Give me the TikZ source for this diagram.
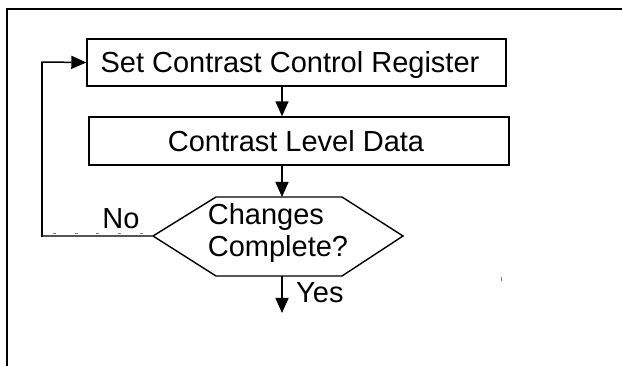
\documentclass[tikz,border=0pt]{standalone}
\usepackage{fontspec}
\setmainfont{Liberation Sans}
\usetikzlibrary{arrows.meta}
\tikzset{
  boxnode/.style={draw, line width=1.4pt, inner sep=0pt, text height=21pt, text depth=0pt},
  arr/.style={line width=1.5pt, -{Triangle[length=15pt,width=13pt]}},
  plain/.style={line width=1.4pt},
  lbl/.style={inner sep=0pt}
}
\begin{document}
\begin{tikzpicture}[x=1pt,y=-1pt,font=\fontsize{29}{32}\selectfont]
\useasboundingbox (0,0) rectangle (622,366);
% frame
\draw[line width=2.4pt] (7,366) -- (7,9) -- (622,9);
% boxes
\node[boxnode, minimum width=419pt, minimum height=47pt] (b1) at (296.5,62.5) {Set Contrast Control Register\hspace*{13pt}};
\node[boxnode, minimum width=420pt, minimum height=48pt] (b2) at (299,141) {Contrast Level Data\hspace*{6pt}};
% hexagon
\coordinate (hl) at (153,236);
\coordinate (htl) at (216,197);
\coordinate (htr) at (342,197);
\coordinate (hr) at (403,236);
\coordinate (hbr) at (342,276);
\coordinate (hbl) at (216,276);
\coordinate (htop) at (282,197);
\coordinate (hbot) at (282,276);
\coordinate (yesend) at (282,313);
\coordinate (lp) at (42,62);
\draw[plain] (hl) -- (htl) -- (htr) -- (hr) -- (hbr) -- (hbl) -- cycle;
\node[lbl, align=left] (q) at (278,233.5) {Changes\\Complete?};
% connectors
\draw[arr] (b1.south -| htop) -- (b2.north -| htop);
\draw[arr] (b2.south -| htop) -- (htop);
\draw[arr] (hbot) -- (yesend);
\node[lbl, anchor=base west] (yes) at (296,303) {Yes};
% No loop
\draw[line width=2.6pt, color={rgb,255:red,85;green,85;blue,85}] (hl) -- (hl -| lp);
\draw[line width=0.9pt, color=gray, dash pattern=on 3pt off 18.7pt] ([yshift=2.2pt]hl -| 53,0) -- ([yshift=2.2pt]hl);
\draw[plain] ([yshift=-1pt]hl -| lp) -- (lp);
\draw[arr] ([xshift=-0.7pt]lp) -- (b1.west);
\node[lbl, anchor=base] (no) at (121,229) {No};
% small tick
\coordinate (tk) at (501,277);
\draw[line width=0.7pt, gray] (tk) -- ++(0,4);
\end{tikzpicture}
\end{document}
